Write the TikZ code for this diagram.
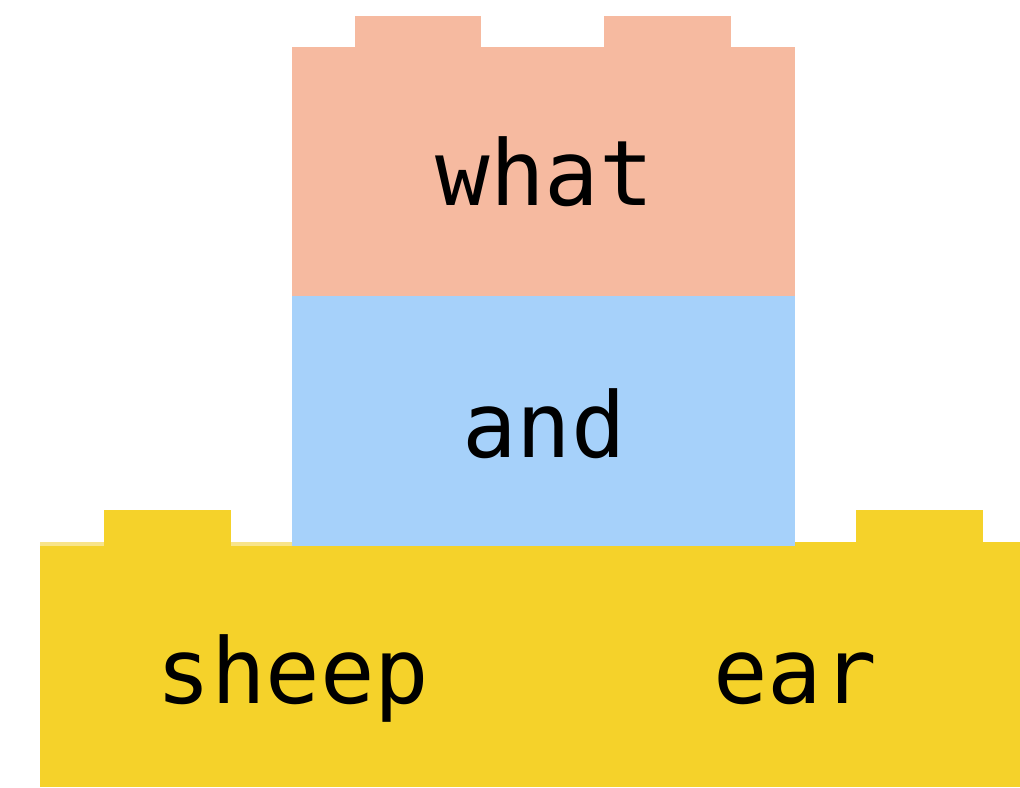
\documentclass[tikz,border=0pt]{standalone}
\usepackage{fontspec}
\usepackage{tikz}
\usetikzlibrary{positioning}
\newfontfamily\brickfont{DejaVu Sans Mono}
\definecolor{brickred}{HTML}{F6BAA0}
\definecolor{brickblue}{HTML}{A6D1FA}
\definecolor{brickyellow}{HTML}{F5D22A}
\definecolor{brickpale}{HTML}{F8E48A}
\tikzset{word/.style={anchor=base, inner sep=0pt, font=\brickfont\fontsize{51.6}{60}\selectfont}}

\begin{document}
\begin{tikzpicture}[x=0.02cm, y=-0.02cm]
\useasboundingbox (0,0) rectangle (1020,787);
% top brick
\draw[fill=brickred, draw=none] (292,47) rectangle (795,296);
\draw[fill=brickred, draw=none] (355,16) rectangle (481,47);
\draw[fill=brickred, draw=none] (604,16) rectangle (731,47);
% middle brick
\draw[fill=brickblue, draw=none] (292,296) rectangle (795,547);
% bottom brick
\draw[fill=brickyellow, draw=none] (40,546) rectangle (1020,787);
\draw[fill=brickpale, draw=none] (40,542) rectangle (292,546);
\draw[fill=brickyellow, draw=none] (795,542) rectangle (1020,547);
\draw[fill=brickyellow, draw=none] (104,510) rectangle (231,546);
\draw[fill=brickyellow, draw=none] (856,510) rectangle (983,546);
\node[word] (what) at (545,206) {what};
\node[word] (and) at (544,457) {and};
\node[word] (sheep) at (293,703) {sheep};
\node[word] (ear) at (795,703) {ear};
\end{tikzpicture}
\end{document}
